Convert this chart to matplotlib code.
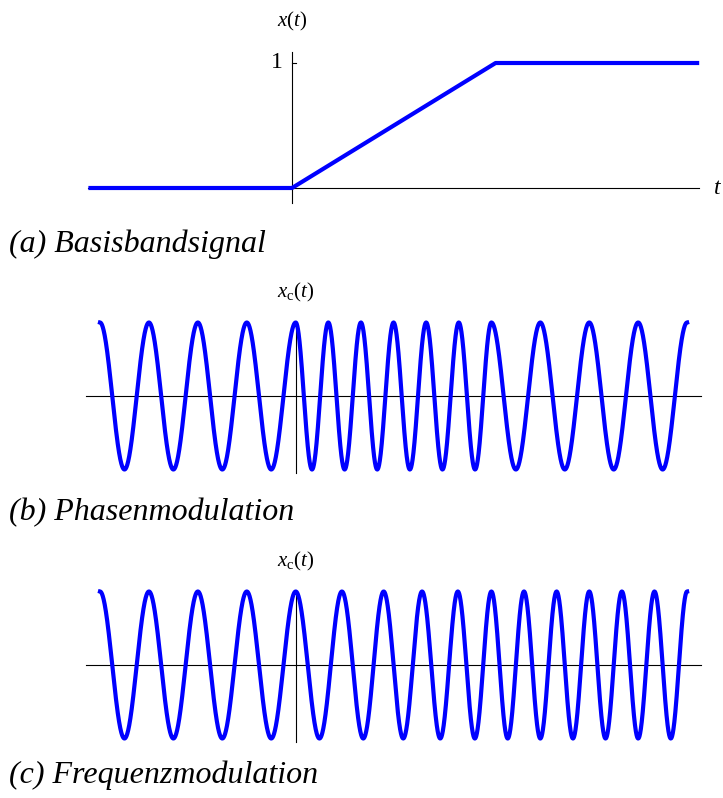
import numpy as np
import matplotlib
matplotlib.use("Agg")
import matplotlib.pyplot as plt

# baseband signal x(t): breakpoints
T_BREAKS = [-1.0, 0.0, 1.0, 2.0]
X_BREAKS = [0.0, 0.0, 1.0, 1.0]

# carrier and modulation constants read from peak spacing in (b) and (c)
F_CARRIER = 4.0        # cycles per time unit outside the ramp
K_PM = 4 * np.pi       # phase deviation (rad) at x = 1
K_FM = 4 * np.pi       # frequency deviation (rad/unit) at x = 1

CAPTIONS = ["(a) Basisbandsignal", "(b) Phasenmodulation", "(c) Frequenzmodulation"]
YLABELS = [r"$x(t)$", r"$x_{\mathrm{c}}(t)$", r"$x_{\mathrm{c}}(t)$"]

BLUE = "#0000ff"
W, H = 723, 798

plt.rcParams["font.family"] = ["Liberation Serif", "DejaVu Serif"]
plt.rcParams["mathtext.fontset"] = "custom"
plt.rcParams["mathtext.rm"] = "Liberation Serif"
plt.rcParams["mathtext.it"] = "Liberation Serif:italic"

fig = plt.figure(figsize=(W / 100, H / 100), dpi=100)


def px_axes(x0, x1, y_lo, y_hi):
    # axes box from pixel x0..x1 and y_lo (bottom) .. y_hi (top), measured from the top edge
    return fig.add_axes([x0 / W, 1 - y_lo / H, (x1 - x0) / W, (y_lo - y_hi) / H])


t = np.linspace(T_BREAKS[0], T_BREAKS[-1], 4000)
x = np.interp(t, T_BREAKS, X_BREAKS)
# integral of x(t) for the FM phase
x_int = np.concatenate([[0], np.cumsum(0.5 * (x[1:] + x[:-1]) * np.diff(t))])
pm = np.cos(2 * np.pi * F_CARRIER * t + K_PM * x)
fm = np.cos(2 * np.pi * F_CARRIER * t + K_FM * x_int)

# (a) baseband signal
ax = px_axes(88.4, 699.2, 188, 63)
ax.set_xlim(-1, 2)
ax.set_ylim(0, 1)
ax.axis("off")
ax.plot([-1, 2], [0, 0], color="black", lw=0.8, clip_on=False)
ax.plot([0, 0], [-0.12, 1.09], color="black", lw=0.8, clip_on=False)
ax.plot([0, 0.02], [1, 1], color="black", lw=0.8, clip_on=False)
ax.plot(T_BREAKS, X_BREAKS, color=BLUE, lw=3, clip_on=False, solid_capstyle="butt")
ax.text(-0.045, 1, "1", ha="right", va="center", fontsize=17)
ax.text(0, 1.33, YLABELS[0], ha="center", va="center", fontsize=15)
ax.text(2.07, 0, r"$t$", ha="left", va="center", fontsize=17)

# (b) phase modulation, (c) frequency modulation
for sig, y0, label in [(pm, 396, YLABELS[1]), (fm, 665, YLABELS[2])]:
    ax = px_axes(100.0, 687.1, y0 + 73.5, y0 - 73.5)
    ax.set_xlim(-1, 2)
    ax.set_ylim(-1, 1)
    ax.axis("off")
    ax.plot([-1.07, 2.07], [0, 0], color="black", lw=0.8, clip_on=False)
    ax.plot([0, 0], [-1.05, 1.0], color="black", lw=0.8, clip_on=False)
    ax.plot(t, sig, color=BLUE, lw=3, clip_on=False)
    ax.text(0, 1.41, label, ha="center", va="center", fontsize=15)
    # the reference shows this "t" cut by the right edge
    ax.text(2.173, 0, r"$t$", ha="left", va="center", fontsize=17, clip_on=False)

for cap, yc in zip(CAPTIONS, [244, 513, 775]):
    fig.text(9 / W, 1 - yc / H, cap, ha="left", va="center", fontsize=23, style="italic")

fig.savefig("out.png", dpi=100)
